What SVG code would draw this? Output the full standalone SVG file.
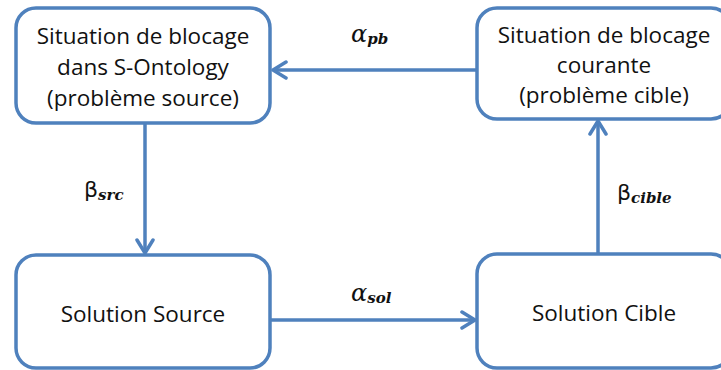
<svg xmlns="http://www.w3.org/2000/svg" width="721" height="370" viewBox="0 0 721 370">
<style>
.box{fill:#fff;stroke:#4F81BD;stroke-width:3.5}
.t{font-family:"Open Sans","Noto Sans",sans-serif;font-size:22.5px;font-weight:500;fill:#111;text-anchor:middle}
.edge{fill:none;stroke:#4F81BD;stroke-width:3.5}
.m{font-family:"DejaVu Serif",serif;font-style:italic;fill:#111}
.b{font-family:"DejaVu Sans","Noto Sans",sans-serif;fill:#111}
</style>
<defs>
<marker id="ah" viewBox="0 0 20 20" refX="17" refY="10" markerWidth="20" markerHeight="20" markerUnits="userSpaceOnUse" orient="auto">
<path d="M4,2 L17,10 L4,18" fill="none" stroke="#4F81BD" stroke-width="3.5" stroke-linecap="round" stroke-linejoin="round"/>
</marker>
</defs>
<g id="connectors">
<line class="edge" x1="476" y1="70" x2="273" y2="70" marker-end="url(#ah)"/>
<line class="edge" x1="145" y1="123" x2="145" y2="253" marker-end="url(#ah)"/>
<line class="edge" x1="598" y1="254" x2="598" y2="121" marker-end="url(#ah)"/>
<line class="edge" x1="270" y1="320" x2="475" y2="320" marker-end="url(#ah)"/>
<text class="m" x="351" y="42" font-size="24">α<tspan font-size="15" font-weight="bold" dy="2">pb</tspan></text>
<text class="b" x="84" y="197" font-size="22">β<tspan class="m" font-size="15" font-weight="bold" dy="3">src</tspan></text>
<text class="b" x="617" y="200" font-size="22">β<tspan class="m" font-size="15" font-weight="bold" dy="3">cible</tspan></text>
<text class="m" x="351" y="301" font-size="24">α<tspan font-size="15" font-weight="bold" dy="2">sol</tspan></text>
</g>
<g id="n1">
<rect class="box" x="16" y="8" width="254" height="115" rx="20"/>
<text class="t" x="143" y="44">Situation de blocage</text>
<text class="t" x="143" y="75">dans S-Ontology</text>
<text class="t" x="143" y="106">(problème source)</text>
</g>
<g id="n2">
<rect class="box" x="477" y="8" width="254" height="111" rx="20"/>
<text class="t" x="604" y="43">Situation de blocage</text>
<text class="t" x="604" y="73">courante</text>
<text class="t" x="604" y="103">(problème cible)</text>
</g>
<g id="n3">
<rect class="box" x="16" y="255" width="254" height="113" rx="20"/>
<text class="t" x="143" y="322">Solution Source</text>
</g>
<g id="n4">
<rect class="box" x="477" y="254" width="254" height="114" rx="20"/>
<text class="t" x="604" y="321">Solution Cible</text>
</g>
</svg>
